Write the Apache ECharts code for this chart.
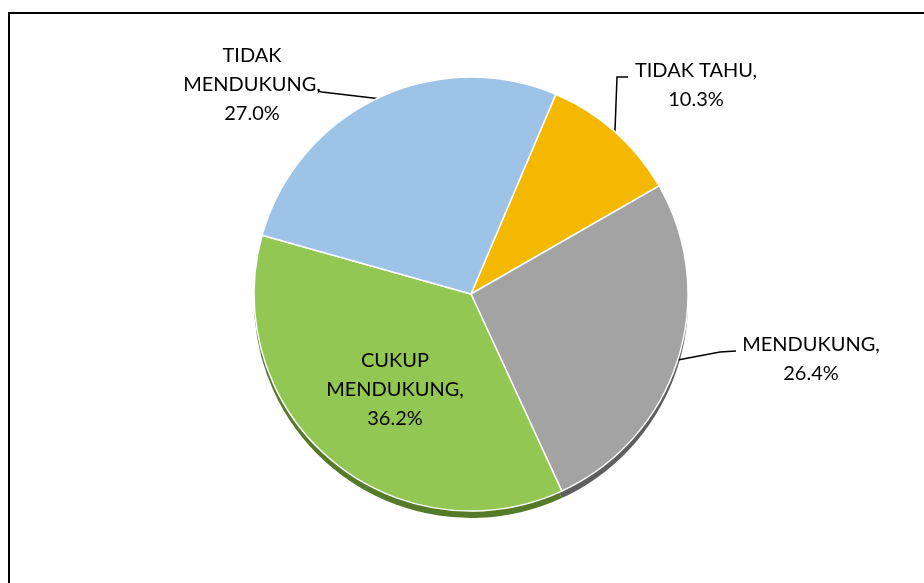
<!DOCTYPE html>
<html>
<head>
<meta charset="utf-8">
<script src="https://cdn.jsdelivr.net/npm/echarts@6/dist/echarts.min.js"></script>
<style>html,body{margin:0;padding:0;background:#fff}#c{width:924px;height:583px}</style>
</head>
<body>
<div id="c"></div>
<script>
const categories = ['TIDAK TAHU', 'MENDUKUNG', 'CUKUP MENDUKUNG', 'TIDAK MENDUKUNG'];
const values = [10.3, 26.4, 36.2, 27.0];
const labelNames = ['TIDAK TAHU,', 'MENDUKUNG,', 'CUKUP\nMENDUKUNG,', 'TIDAK\nMENDUKUNG,'];

const colors = ['#F4B800', '#A3A3A3', '#91C752', '#9DC3E6'];
const edgeColors = ['#9C7600', '#5E5E5E', '#557A2A', '#6688AA'];
const labelPos = [
  {x: 696, y: 85, line: [[617, 77], [628, 77]]},
  {x: 811, y: 359, line: [[720, 352], [736, 351]]},
  {x: 395, y: 390, line: null},
  {x: 252, y: 85, line: [[322, 92], [318, 91]]}
];
const CX = 471, CY = 294, R = 217;

const chart = echarts.init(document.getElementById('c'));
const frontData = categories.map((c, i) => ({
  name: c,
  value: values[i],
  itemStyle: {color: colors[i]},
  labelLine: {show: labelPos[i].line !== null}
}));
const edgeData = categories.map((c, i) => ({
  name: c,
  value: values[i],
  itemStyle: {color: edgeColors[i]}
}));

chart.setOption({
  animation: false,
  backgroundColor: '#fff',
  graphic: [{
    type: 'rect',
    shape: {x: 9, y: 13, width: 940, height: 620},
    style: {fill: 'none', stroke: '#000', lineWidth: 2},
    z: 100
  }],
  series: [
    {
      type: 'pie',
      silent: true,
      center: [CX, CY + 7],
      radius: R,
      startAngle: 67,
      clockwise: true,
      label: {show: false},
      labelLine: {show: false},
      itemStyle: {borderWidth: 0},
      data: edgeData,
      z: 1
    },
    {
      type: 'pie',
      center: [CX, CY],
      radius: R,
      startAngle: 67,
      clockwise: true,
      itemStyle: {borderColor: '#ffffff', borderWidth: 1.5},
      label: {
        show: true,
        position: 'outside',
        color: '#000',
        fontFamily: 'Lato, "Open Sans", sans-serif',
        fontSize: 20,
        lineHeight: 29,
        align: 'center',
        formatter: p => labelNames[p.dataIndex] + '\n' + values[p.dataIndex].toFixed(1) + '%'
      },
      labelLine: {show: true, lineStyle: {color: '#000', width: 1.5}},
      labelLayout: function (params) {
        const lp = labelPos[params.dataIndex];
        const res = {x: lp.x, y: lp.y, align: 'center', verticalAlign: 'middle'};
        if (lp.line && params.labelLinePoints) {
          res.labelLinePoints = [params.labelLinePoints[0], lp.line[0], lp.line[1]];
        }
        return res;
      },
      data: frontData,
      z: 2
    }
  ]
});
</script>
</body>
</html>
